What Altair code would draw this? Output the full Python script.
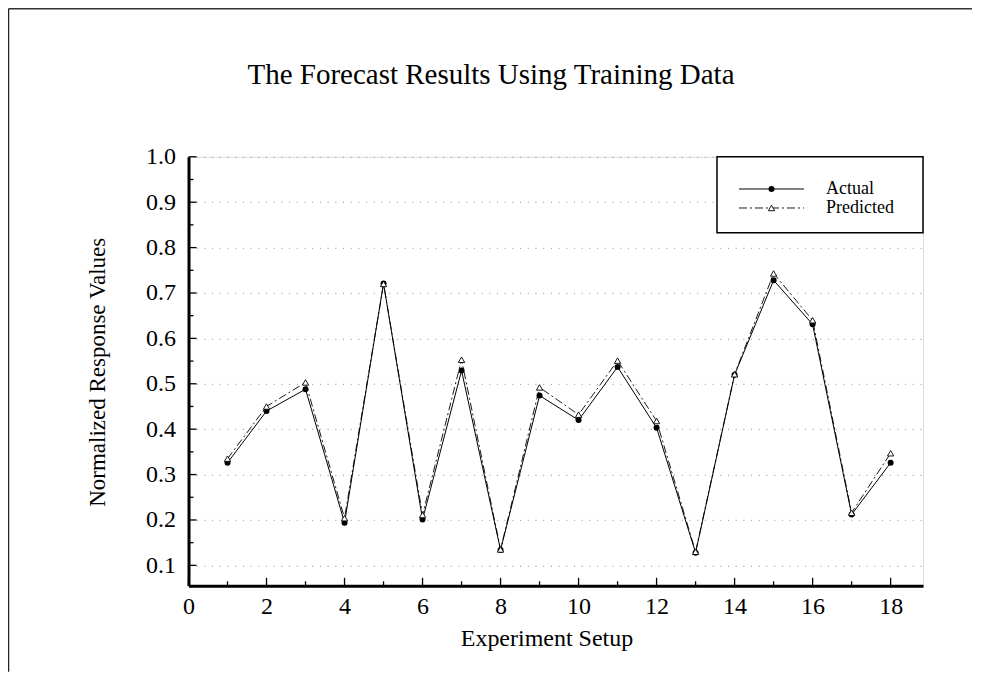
import altair as alt
import pandas as pd

SERIF = "Liberation Serif"

# ---- data ----
setup = list(range(1, 19))
actual = [0.326, 0.440, 0.488, 0.194, 0.721, 0.201, 0.529, 0.134, 0.474,
          0.420, 0.537, 0.403, 0.128, 0.520, 0.728, 0.631, 0.212, 0.326]
predicted = [0.335, 0.450, 0.503, 0.204, 0.720, 0.211, 0.553, 0.135, 0.492,
             0.432, 0.551, 0.418, 0.130, 0.521, 0.743, 0.640, 0.216, 0.347]
series_names = ["Actual", "Predicted"]

x_labels = [0, 2, 4, 6, 8, 10, 12, 14, 16, 18]
x_minor = [1, 3, 5, 7, 9, 11, 13, 15, 17]
y_major = [0.1, 0.2, 0.3, 0.4, 0.5, 0.6, 0.7, 0.8, 0.9, 1.0]
y_minor = [0.15, 0.25, 0.35, 0.45, 0.55, 0.65, 0.75, 0.85, 0.95]
y_grid = sorted(y_major + y_minor)

title_text = "The Forecast Results Using Training Data"
x_title = "Experiment Setup"
y_title = "Normalized Response Values"

W, H = 734.5, 429

df_a = pd.DataFrame({"setup": setup, "value": actual})
df_p = pd.DataFrame({"setup": setup, "value": predicted})

xs = alt.Scale(domain=[0, 18.83], nice=False, zero=False)
ys = alt.Scale(domain=[0.055, 1.0], nice=False, zero=False)

x_axis = alt.Axis(values=x_labels, grid=False, ticks=False, domainColor="black",
                  domainWidth=3, labelFont=SERIF, labelFontSize=24, labelColor="black",
                  labelPadding=9, labelFlush=False, titleFont=SERIF, titleFontSize=24,
                  titleFontWeight="normal", titleColor="black", titlePadding=8,
                  titleX=358)
y_axis = alt.Axis(values=y_grid, grid=True, gridDash=[1, 6.7], gridColor="#8a8a8a",
                  gridWidth=1, ticks=False, domainColor="black", domainWidth=3,
                  format=".1f",
                  labelExpr="round(datum.value*20) % 2 == 0 ? datum.label : ''",
                  labelFont=SERIF, labelFontSize=24, labelColor="black", labelPadding=13,
                  labelFlush=False,
                  titleFont=SERIF, titleFontSize=23, titleFontWeight="normal",
                  titleColor="black", titleAngle=270, titleX=-84, titleY=215,
                  titleAlign="center", titleBaseline="alphabetic")

actual_line = alt.Chart(df_a).mark_line(color="black", strokeWidth=1).encode(
    x=alt.X("setup:Q", scale=xs, axis=x_axis, title=x_title),
    y=alt.Y("value:Q", scale=ys, axis=y_axis, title=y_title),
)
actual_pts = alt.Chart(df_a).mark_point(shape="circle", filled=True, color="black",
                                        size=36, opacity=1).encode(
    x=alt.X("setup:Q", scale=xs), y=alt.Y("value:Q", scale=ys))
pred_line = alt.Chart(df_p).mark_line(color="black", strokeWidth=0.9,
                                      strokeDash=[8, 3, 2, 3]).encode(
    x=alt.X("setup:Q", scale=xs), y=alt.Y("value:Q", scale=ys))
pred_pts = alt.Chart(df_p).mark_point(shape="triangle-up", filled=False, fill="white",
                                      fillOpacity=1, stroke="black", strokeWidth=0.9,
                                      size=40, opacity=1).encode(
    x=alt.X("setup:Q", scale=xs), y=alt.Y("value:Q", scale=ys))

# inward ticks
ymaj = alt.Chart(pd.DataFrame({"v": y_major})).mark_rule(color="black", strokeWidth=1.3).encode(
    y=alt.Y("v:Q", scale=ys), x=alt.value(0), x2=alt.value(8))
ymin = alt.Chart(pd.DataFrame({"v": y_minor})).mark_rule(color="black", strokeWidth=1.3).encode(
    y=alt.Y("v:Q", scale=ys), x=alt.value(0), x2=alt.value(5))
xmaj = alt.Chart(pd.DataFrame({"t": x_labels})).mark_rule(color="black", strokeWidth=1.3).encode(
    x=alt.X("t:Q", scale=xs), y=alt.value(H), y2=alt.value(H - 8))
xmin = alt.Chart(pd.DataFrame({"t": x_minor})).mark_rule(color="black", strokeWidth=1.3).encode(
    x=alt.X("t:Q", scale=xs), y=alt.value(H), y2=alt.value(H - 4.5))

# legend (drawn by hand, top-right corner of the plot)
one = pd.DataFrame({"a": [0]})
leg_box = alt.Chart(one).mark_rect(fill="white", stroke="black", strokeWidth=1.5).encode(
    x=alt.value(528.5), x2=alt.value(W), y=alt.value(0), y2=alt.value(76))
leg_l1 = alt.Chart(one).mark_rule(color="black", strokeWidth=1).encode(
    x=alt.value(550.5), x2=alt.value(615.5), y=alt.value(32.2))
leg_l2 = alt.Chart(one).mark_rule(color="black", strokeWidth=0.9, strokeDash=[8, 3, 2, 3]).encode(
    x=alt.value(550.5), x2=alt.value(615.5), y=alt.value(51.2))
leg_p1 = alt.Chart(one).mark_point(shape="circle", filled=True, color="black", size=36,
                                   opacity=1).encode(x=alt.value(583), y=alt.value(32.2))
leg_p2 = alt.Chart(one).mark_point(shape="triangle-up", filled=False, fill="white",
                                   fillOpacity=1, stroke="black", strokeWidth=0.9, size=40,
                                   opacity=1).encode(x=alt.value(583), y=alt.value(51.2))
leg_t1 = alt.Chart(one).mark_text(font=SERIF, fontSize=18, align="left", baseline="middle",
                                  color="black").encode(
    x=alt.value(637.5), y=alt.value(32.2), text=alt.value(series_names[0]))
leg_t2 = alt.Chart(one).mark_text(font=SERIF, fontSize=18, align="left", baseline="middle",
                                  color="black").encode(
    x=alt.value(637.5), y=alt.value(51.2), text=alt.value(series_names[1]))

# chart title (centered on the figure)
title_mark = alt.Chart(one).mark_text(font=SERIF, fontSize=29, align="center",
                                      baseline="middle", color="black").encode(
    x=alt.value(302.5), y=alt.value(-82), text=alt.value(title_text))

# outer figure frame (top and left edges)
frame_top = alt.Chart(one).mark_rule(color="#333333", strokeWidth=1.5).encode(
    x=alt.value(-180), x2=alt.value(W + 49), y=alt.value(-148))
frame_left = alt.Chart(one).mark_rule(color="#222222", strokeWidth=1.5).encode(
    x=alt.value(-180), y=alt.value(-148), y2=alt.value(H + 86))

chart = alt.layer(
    actual_line, pred_line, actual_pts, pred_pts,
    ymaj, ymin, xmaj, xmin,
    leg_box, leg_l1, leg_l2, leg_p1, leg_p2, leg_t1, leg_t2,
    title_mark, frame_top, frame_left,
).properties(
    width=W, height=H,
    autosize=alt.AutoSizeParams(type="none"),
    padding={"left": 180.5, "top": 148.8, "right": 50, "bottom": 87},
).configure_view(
    stroke="#777777", strokeWidth=1.5
).configure(background="white")

chart.save("out.html", embed_options={"renderer": "svg", "actions": False})
